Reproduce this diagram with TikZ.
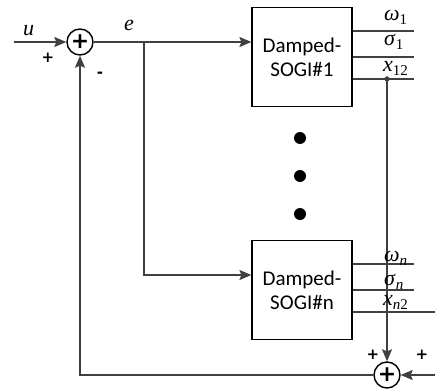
\documentclass[tikz,border=0pt]{standalone}
\usepackage{fontspec}
\setmainfont{Liberation Serif}
\newfontfamily\sogifont{Carlito}
\newfontfamily\signfont{DejaVu Sans}
\usetikzlibrary{arrows.meta}
\definecolor{ln}{HTML}{404040}
\newcommand{\lbl}[2]{\textit{#1}\raisebox{-4pt}{\fontsize{15}{15}\selectfont #2}}
\begin{document}
\begin{tikzpicture}[x=1pt,y=-1pt,
  wire/.style={draw=ln,line width=1.5pt},
  arr/.style={wire,-{Stealth[length=12pt,width=10pt,inset=2pt]}},
  blockbox/.style={draw=black,line width=1.2pt,fill=white,minimum width=100pt,minimum height=99pt,inner sep=0pt,align=center,font=\sogifont\fontsize{21}{24}\selectfont},
  sumnode/.style={circle,draw=black,line width=1.4pt,fill=white,minimum size=26pt,inner sep=0pt,font=\signfont\bfseries\fontsize{22}{22}\selectfont},
  signlbl/.style={font=\signfont\bfseries\fontsize{15}{15}\selectfont,inner sep=0pt},
  varlbl/.style={font=\fontsize{22}{22}\selectfont,inner sep=0pt,anchor=base west},
  bigdot/.style={circle,fill=black,minimum size=12pt,inner sep=0pt},
  jdot/.style={circle,fill=ln,minimum size=5pt,inner sep=0pt}]
\useasboundingbox (0,0) rectangle (435,390);
% nodes
\node[sumnode] (s1) at (80,42) {\raisebox{1pt}{+}};
\node[sumnode] (s2) at (387,375) {\raisebox{1pt}{+}};
\node[blockbox] (b1) at (302,57) {Damped-\\SOGI\#1};
\node[blockbox] (bn) at (302,290) {Damped-\\SOGI\#n};
\coordinate (uin) at (14,42);
\coordinate (br) at (144,42);
\coordinate (brd) at (144,275);
\coordinate (rin) at (435,375);
\coordinate (fbc) at (80,375);
% box 1 outputs
\coordinate (o11) at (414,31);
\coordinate (o12) at (414,57);
\coordinate (o13) at (414,79);
\node[jdot] (j1) at (387,79) {};
% box n outputs
\coordinate (on1) at (414,264);
\coordinate (on2) at (414,290);
\coordinate (on3) at (435,312);
% wires
\draw[arr] (uin) -- (s1.west);
\draw[arr] (s1.east) -- (b1.west |- s1.east);
\draw[arr] (br) -- (brd) -- (bn.west |- brd);
\draw[wire] (b1.east |- o11) -- (o11);
\draw[wire] (b1.east |- o12) -- (o12);
\draw[wire] (b1.east |- o13) -- (o13);
\draw[wire] (bn.east |- on1) -- (on1);
\draw[wire] (bn.east |- on2) -- (on2);
\draw[wire] (bn.east |- on3) -- (on3);
\draw[arr] (j1.center) -- (s2.north);
\draw[arr] (rin) -- (s2.east);
\draw[arr] (s2.west) -- (fbc) -- (s1.south);
\node[jdot] at (j1) {};
% dots
\node[bigdot] (d1) at (300,138) {};
\node[bigdot] (d2) at (300,176) {};
\node[bigdot] (d3) at (300,214) {};
% labels
\node[varlbl] (lu) at (23,36) {\textit{u}};
\node[varlbl] (le) at (124,31) {\textit{e}};
\node[signlbl] (p1) at (48,58) {+};
\node[signlbl] (m1) at (100,75) {-};
\node[signlbl] (p2) at (373,355) {+};
\node[signlbl] (p3) at (422,355) {+};
\node[varlbl] (w1) at (384,21) {\lbl{ω}{1}};
\node[varlbl] (g1) at (384,46) {\lbl{σ}{1}};
\node[varlbl] (x1) at (383,72) {\lbl{x}{12}};
\node[varlbl] (wn) at (384,261) {\lbl{ω}{\textit{n}}};
\node[varlbl] (gn) at (384,285) {\lbl{σ}{\textit{n}}};
\node[varlbl] (xn) at (383,305) {\lbl{x}{\textit{n}2}};
\end{tikzpicture}
\end{document}
